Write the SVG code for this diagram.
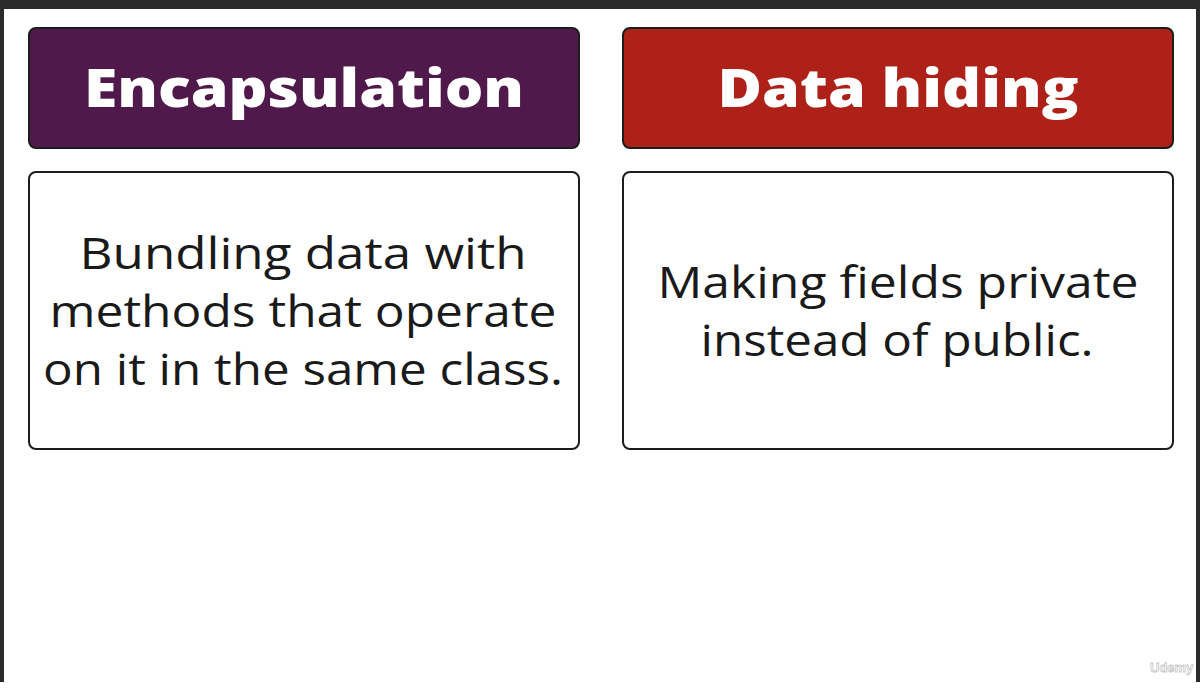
<svg xmlns="http://www.w3.org/2000/svg" width="1200" height="690" viewBox="0 0 1200 690">
  <style>
    .frame { fill: #2b2b2b; }
    .head { stroke: #1c1c1c; stroke-width: 2; }
    .purple { fill: #4f1a4b; }
    .red { fill: #ae2118; }
    .body { fill: #ffffff; stroke: #1c1c1c; stroke-width: 2; }
    .htxt { font-family: "Open Sans", "Liberation Sans", sans-serif; font-weight: 800; font-size: 53px; fill: #ffffff; text-anchor: middle; }
    .btxt { font-family: "Open Sans", "Liberation Sans", sans-serif; font-weight: 400; font-size: 44px; fill: #1a1a1a; text-anchor: middle; }
    .mark { font-family: "Liberation Sans", sans-serif; font-weight: 700; font-size: 13px; fill: #ffffff; stroke: #c8c8c8; stroke-width: 0.8; }
  </style>

  <!-- window background and frame -->
  <rect x="0" y="0" width="1200" height="690" fill="#ffffff"/>
  <rect class="frame" x="0" y="0" width="1200" height="9"/>
  <rect class="frame" x="0" y="0" width="4" height="682"/>
  <rect class="frame" x="1196" y="0" width="4" height="682"/>

  <!-- left column -->
  <g id="encapsulation-title">
    <rect class="head purple" x="29" y="28" width="550" height="120" rx="7"/>
    <text class="htxt" x="304" y="107" textLength="440" lengthAdjust="spacingAndGlyphs">Encapsulation</text>
  </g>
  <g id="encapsulation-body">
    <rect class="body" x="29" y="172" width="550" height="277" rx="7"/>
    <text class="btxt" x="303" y="269" textLength="447" lengthAdjust="spacingAndGlyphs">Bundling data with</text>
    <text class="btxt" x="303" y="327" textLength="507" lengthAdjust="spacingAndGlyphs">methods that operate</text>
    <text class="btxt" x="303" y="385" textLength="520" lengthAdjust="spacingAndGlyphs">on it in the same class.</text>
  </g>

  <!-- right column -->
  <g id="data-hiding-title">
    <rect class="head red" x="623" y="28" width="550" height="120" rx="7"/>
    <text class="htxt" x="898" y="107" textLength="361" lengthAdjust="spacingAndGlyphs">Data hiding</text>
  </g>
  <g id="data-hiding-body">
    <rect class="body" x="623" y="172" width="550" height="277" rx="7"/>
    <text class="btxt" x="898" y="298" textLength="481" lengthAdjust="spacingAndGlyphs">Making fields private</text>
    <text class="btxt" x="897" y="356" textLength="393" lengthAdjust="spacingAndGlyphs">instead of public.</text>
  </g>

  <g id="connectors"/>

  <text class="mark" x="1150" y="672">Udemy</text>
</svg>
